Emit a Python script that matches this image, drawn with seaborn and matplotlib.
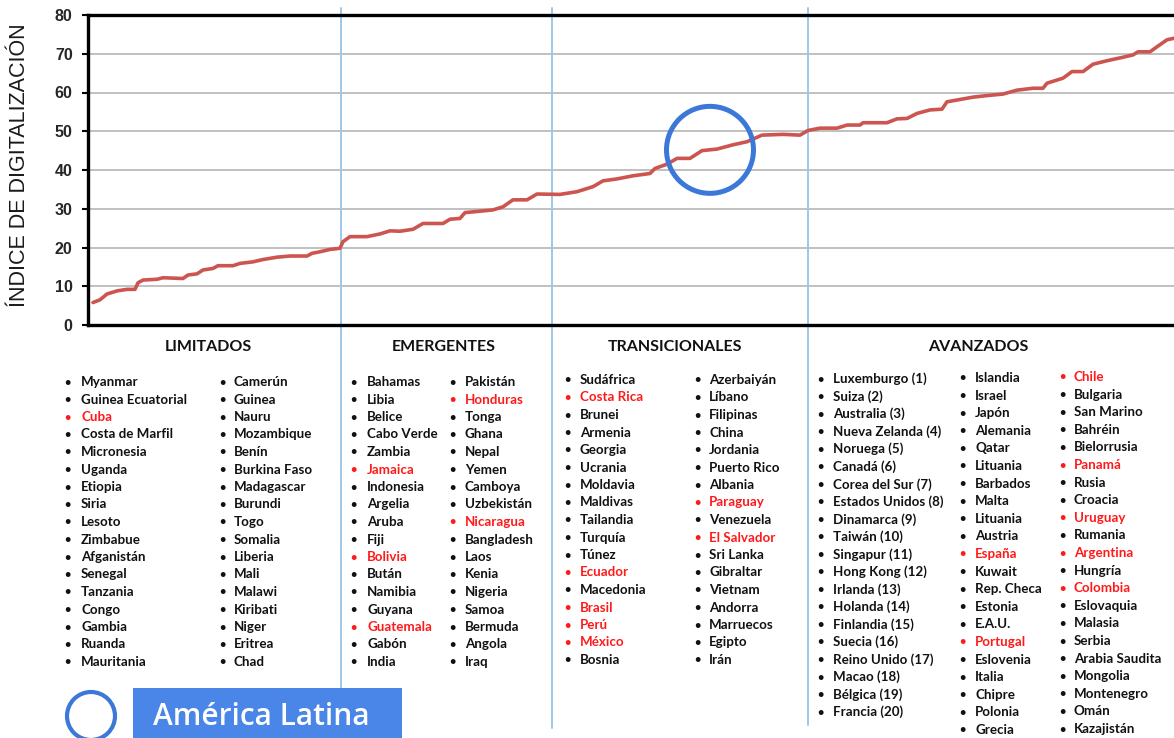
"""
Índice de digitalización por país, agrupado en cuatro etapas
(Limitados, Emergentes, Transicionales, Avanzados).
"""

import matplotlib
matplotlib.use('Agg')
import matplotlib.pyplot as plt
from matplotlib.patches import Ellipse, Rectangle
import seaborn as sns

# ---------------------------------------------------------------
# Datos
# ---------------------------------------------------------------
# posición horizontal en el ranking (eje sin etiquetas) y valor del índice
posicion = [5, 12, 19, 29, 39, 47, 50, 55, 69, 75, 95, 100, 109, 115, 125,
            130, 145, 152, 165, 175, 189, 202, 219, 224, 232, 242, 252, 255,
            262, 279, 292, 302, 312, 325, 335, 355, 362, 372, 377, 405, 415,
            425, 439, 449, 472, 489, 505, 515, 529, 545, 562, 567, 579, 589,
            602, 614, 629, 645, 659, 674, 695, 712, 720, 732, 749, 759, 772,
            775, 799, 809, 819, 829, 842, 854, 859, 872, 885, 899, 915, 929,
            945, 955, 959, 975, 984, 995, 1005, 1019, 1035, 1045, 1050, 1062,
            1069, 1079, 1086]
indice = [5.8, 6.5, 8.0, 8.8, 9.2, 9.2, 10.9, 11.6, 11.8, 12.2, 12.0, 12.9,
          13.2, 14.2, 14.6, 15.3, 15.3, 15.9, 16.3, 16.9, 17.5, 17.8, 17.8,
          18.5, 18.9, 19.5, 19.8, 21.5, 22.8, 22.8, 23.5, 24.3, 24.2, 24.7,
          26.2, 26.2, 27.3, 27.5, 29.0, 29.7, 30.5, 32.3, 32.3, 33.8, 33.7,
          34.4, 35.7, 37.2, 37.7, 38.5, 39.1, 40.4, 41.5, 43.0, 43.0, 45.0,
          45.4, 46.5, 47.3, 49.0, 49.2, 49.0, 50.2, 50.8, 50.8, 51.6, 51.6,
          52.2, 52.2, 53.2, 53.3, 54.6, 55.5, 55.7, 57.6, 58.2, 58.8, 59.2,
          59.6, 60.6, 61.1, 61.1, 62.4, 63.7, 65.4, 65.4, 67.3, 68.2, 69.1,
          69.7, 70.5, 70.5, 71.8, 73.6, 74.0]

# límites entre grupos sobre el eje horizontal
limites_grupo = [253, 464, 720]
# zona destacada (América Latina) en la curva
destacado_x = 622
destacado_y = 45.2

y_ticks = [0, 10, 20, 30, 40, 50, 60, 70, 80]

grupos = ['LIMITADOS', 'EMERGENTES', 'TRANSICIONALES', 'AVANZADOS']

limitados_1 = ['Myanmar', 'Guinea Ecuatorial', 'Cuba', 'Costa de Marfil',
               'Micronesia', 'Uganda', 'Etiopia', 'Siria', 'Lesoto',
               'Zimbabue', 'Afganistán', 'Senegal', 'Tanzania', 'Congo',
               'Gambia', 'Ruanda', 'Mauritania']
limitados_2 = ['Camerún', 'Guinea', 'Nauru', 'Mozambique', 'Benín',
               'Burkina Faso', 'Madagascar', 'Burundi', 'Togo', 'Somalia',
               'Liberia', 'Mali', 'Malawi', 'Kiribati', 'Niger', 'Eritrea',
               'Chad']
emergentes_1 = ['Bahamas', 'Libia', 'Belice', 'Cabo Verde', 'Zambia',
                'Jamaica', 'Indonesia', 'Argelia', 'Aruba', 'Fiji', 'Bolivia',
                'Bután', 'Namibia', 'Guyana', 'Guatemala', 'Gabón', 'India']
emergentes_2 = ['Pakistán', 'Honduras', 'Tonga', 'Ghana', 'Nepal', 'Yemen',
                'Camboya', 'Uzbekistán', 'Nicaragua', 'Bangladesh', 'Laos',
                'Kenia', 'Nigeria', 'Samoa', 'Bermuda', 'Angola', 'Iraq']
transicionales_1 = ['Sudáfrica', 'Costa Rica', 'Brunei', 'Armenia',
                    'Georgia', 'Ucrania', 'Moldavia', 'Maldivas', 'Tailandia',
                    'Turquía', 'Túnez', 'Ecuador', 'Macedonia', 'Brasil',
                    'Perú', 'México', 'Bosnia']
transicionales_2 = ['Azerbaiyán', 'Líbano', 'Filipinas', 'China', 'Jordania',
                    'Puerto Rico', 'Albania', 'Paraguay', 'Venezuela',
                    'El Salvador', 'Sri Lanka', 'Gibraltar', 'Vietnam',
                    'Andorra', 'Marruecos', 'Egipto', 'Irán']
avanzados_1 = ['Luxemburgo (1)', 'Suiza (2)', 'Australia (3)',
               'Nueva Zelanda (4)', 'Noruega (5)', 'Canadá (6)',
               'Corea del Sur (7)', 'Estados Unidos (8)', 'Dinamarca (9)',
               'Taiwán (10)', 'Singapur (11)', 'Hong Kong (12)',
               'Irlanda (13)', 'Holanda (14)', 'Finlandia (15)',
               'Suecia (16)', 'Reino Unido (17)', 'Macao (18)',
               'Bélgica (19)', 'Francia (20)']
avanzados_2 = ['Islandia', 'Israel', 'Japón', 'Alemania', 'Qatar', 'Lituania',
               'Barbados', 'Malta', 'Lituania', 'Austria', 'España', 'Kuwait',
               'Rep. Checa', 'Estonia', 'E.A.U.', 'Portugal', 'Eslovenia',
               'Italia', 'Chipre', 'Polonia', 'Grecia']
avanzados_3 = ['Chile', 'Bulgaria', 'San Marino', 'Bahréin', 'Bielorrusia',
               'Panamá', 'Rusia', 'Croacia', 'Uruguay', 'Rumania', 'Argentina',
               'Hungría', 'Colombia', 'Eslovaquia', 'Malasia', 'Serbia',
               'Arabia Saudita', 'Mongolia', 'Montenegro', 'Omán',
               'Kazajistán']

# países marcados en rojo (América Latina + España y Portugal)
america_latina = {'Cuba', 'Jamaica', 'Bolivia', 'Guatemala', 'Honduras',
                  'Nicaragua', 'Costa Rica', 'Ecuador', 'Brasil', 'Perú',
                  'México', 'Paraguay', 'El Salvador', 'España', 'Portugal',
                  'Chile', 'Panamá', 'Uruguay', 'Argentina', 'Colombia'}

# ---------------------------------------------------------------
# Estilo
# ---------------------------------------------------------------
W, H = 1174, 738
ROJO_LINEA = '#cc5550'
AZUL = '#3b78d8'
AZUL_CAJA = '#4a86e8'
AZUL_SEP = '#9dc8ea'

sns.set_theme(style='white')
plt.rcParams['font.family'] = ['Liberation Sans', 'DejaVu Sans']


def fpos(x, y):
    """píxeles (desde arriba-izquierda) -> coordenadas de figura"""
    return x / W, 1 - y / H


fig = plt.figure(figsize=(W / 100, H / 100), dpi=100)
ax = fig.add_axes([88 / W, 1 - 325 / H, (W - 88) / W, 310 / H])

sns.lineplot(x=posicion, y=indice, ax=ax, color=ROJO_LINEA, linewidth=2.6,
             zorder=3)

ax.set_xlim(0, 1086)
ax.set_ylim(0, 80)
ax.set_yticks(y_ticks)
ax.set_yticklabels([str(t) for t in y_ticks], fontsize=11.5, fontweight='bold')
ax.set_xticks([])
ax.set_xlabel('')
ax.set_ylabel('')
ax.grid(axis='y', color='#b5b5b5', linewidth=1.2)
ax.tick_params(axis='y', which='major', left=True, length=4, width=1.5,
               color='black', pad=7)
for side in ['top', 'bottom', 'left']:
    ax.spines[side].set_color('black')
    ax.spines[side].set_linewidth(2.4)
ax.spines['right'].set_visible(False)

# separadores entre grupos, bajan hasta la zona de las listas
finales = [-1.171, -1.30, -1.29]
for xb, y0 in zip(limites_grupo, finales):
    ax.axvline(xb, ymin=y0, ymax=1.023, color=AZUL_SEP, linewidth=1.4,
               clip_on=False, zorder=1)

# círculo que destaca América Latina sobre la curva
ax.add_patch(Ellipse((destacado_x, destacado_y), 87, 87 / 3.875,
                     fill=False, edgecolor=AZUL, linewidth=3.6, zorder=4))

fig.text(*fpos(20, 165), 'ÍNDICE DE DIGITALIZACIÓN', rotation=90,
         ha='center', va='center', fontsize=15.5, color='#1a1a1a')

# ---------------------------------------------------------------
# Listas de países
# ---------------------------------------------------------------
LISTA_FONT = ['Lato', 'DejaVu Sans']

cabeceras_x = [208, 444, 675, 978]
for nombre, cx in zip(grupos, cabeceras_x):
    fig.text(*fpos(cx, 347), nombre, ha='center', va='center',
             fontsize=11.5, fontweight='bold', family=LISTA_FONT,
             color='#111111')

columnas = [
    (limitados_1, 67, 81, 382, 17.5),
    (limitados_2, 222, 234, 382, 17.5),
    (emergentes_1, 353, 367, 382, 17.5),
    (emergentes_2, 452, 465, 382, 17.5),
    (transicionales_1, 567, 580, 380, 17.5),
    (transicionales_2, 697, 709, 380, 17.5),
    (avanzados_1, 820, 833, 379, 17.53),
    (avanzados_2, 962, 975, 378, 17.6),
    (avanzados_3, 1062, 1074, 377, 17.6),
]
for paises, bx, tx, y0, paso in columnas:
    for i, pais in enumerate(paises):
        y = y0 + i * paso
        col = '#ff1a1a' if pais in america_latina else '#111111'
        fig.text(*fpos(bx, y), '•', ha='center', va='center', fontsize=8,
                 fontweight='bold', family=LISTA_FONT, color=col)
        fig.text(*fpos(tx, y), pais, ha='left', va='center', fontsize=9.6,
                 fontweight='bold', family=LISTA_FONT, color=col)

# ---------------------------------------------------------------
# Leyenda inferior
# ---------------------------------------------------------------
fig.patches.append(Ellipse(fpos(91, 716), 48 / W, 48 / H, fill=False,
                           edgecolor=AZUL, linewidth=3.0,
                           transform=fig.transFigure, figure=fig))
fig.patches.append(Rectangle(fpos(133, 738), (402 - 133) / W, 50 / H,
                             facecolor=AZUL_CAJA, edgecolor='none',
                             transform=fig.transFigure, figure=fig))
fig.text(*fpos(153, 717), 'América Latina', ha='left', va='center',
         fontsize=21.5, color='white', fontweight='semibold',
         family=['Open Sans', 'DejaVu Sans'])

fig.savefig('out.png', dpi=100)
plt.close(fig)
